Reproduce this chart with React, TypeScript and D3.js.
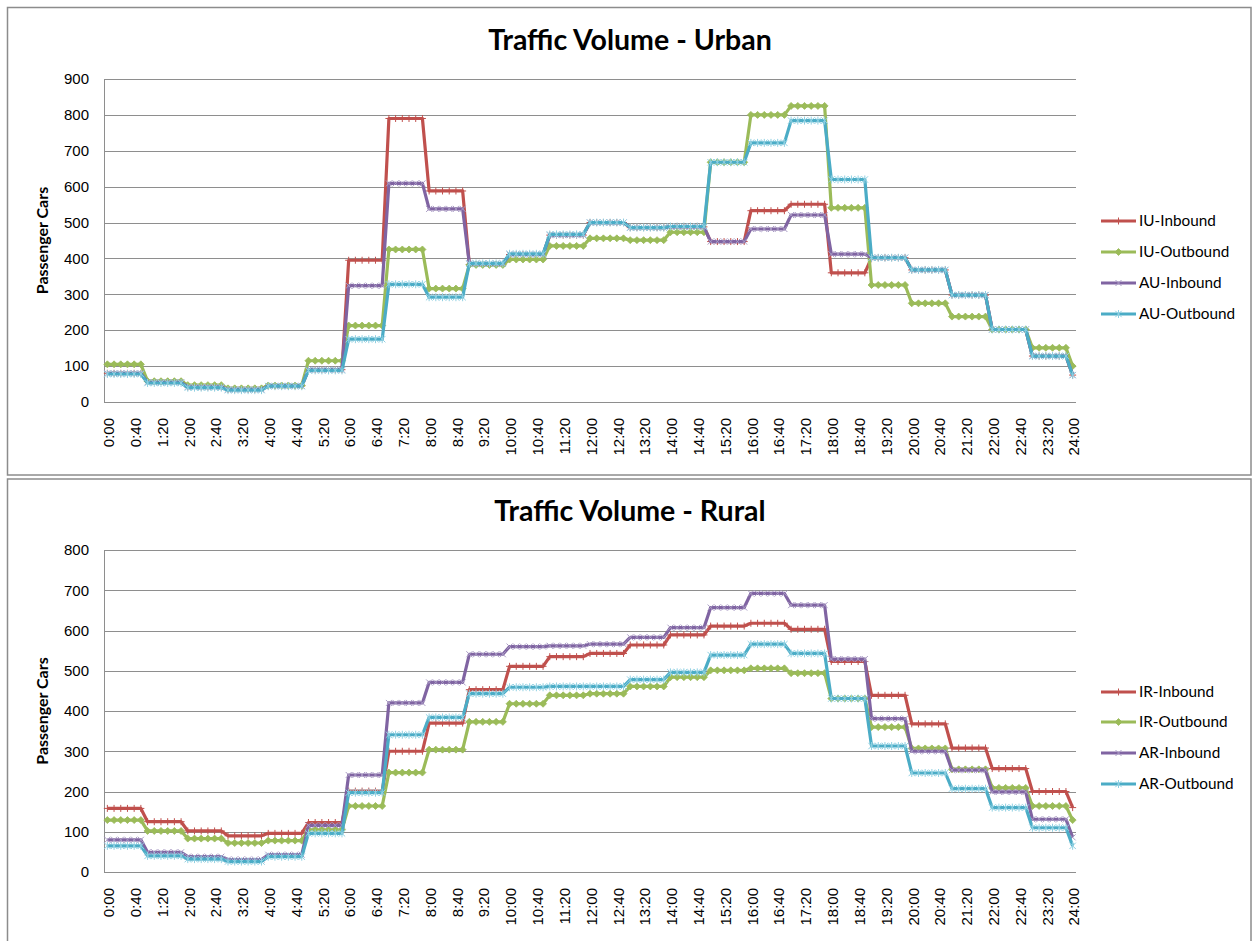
import React from "react";
import * as d3 from "d3";

// ---------- DATA (10-minute samples, 0:00 .. 24:00) ----------
const timeLabels: string[] = d3.range(145).map(
  (i) => `${Math.floor(i / 6)}:${String((i % 6) * 10).padStart(2, "0")}`
);

const urbanNames = ["IU-Inbound", "IU-Outbound", "AU-Inbound", "AU-Outbound"];
const ruralNames = ["IR-Inbound", "IR-Outbound", "AR-Inbound", "AR-Outbound"];

const urbanTicks = [0, 100, 200, 300, 400, 500, 600, 700, 800, 900];
const ruralTicks = [0, 100, 200, 300, 400, 500, 600, 700, 800];

const iuInbound = [
  80,80,80,80,80,80, 57,57,57,57,57,57, 42,42,42,42,42,42, 35,35,35,35,35,35,
  45,45,45,45,45,45, 90,90,90,90,90,90, 395,395,395,395,395,395, 790,790,790,790,790,790,
  588,588,588,588,588,588, 383,383,383,383,383,383, 411,411,411,411,411,411, 465,465,465,465,465,465,
  500,500,500,500,500,500, 486,486,486,486,486,486, 488,488,488,488,488,488, 447,447,447,447,447,447,
  533,533,533,533,533,533, 551,551,551,551,551,551, 360,360,360,360,360,360, 402,402,402,402,402,402,
  368,368,368,368,368,368, 298,298,298,298,298,298, 202,202,202,202,202,202, 128,128,128,128,128,128,
  75,
];
const iuOutbound = [
  105,105,105,105,105,105, 58,58,58,58,58,58, 47,47,47,47,47,47, 38,38,38,38,38,38,
  46,46,46,46,46,46, 115,115,115,115,115,115, 213,213,213,213,213,213, 425,425,425,425,425,425,
  316,316,316,316,316,316, 382,382,382,382,382,382, 397,397,397,397,397,397, 435,435,435,435,435,435,
  456,456,456,456,456,456, 451,451,451,451,451,451, 473,473,473,473,473,473, 668,668,668,668,668,668,
  800,800,800,800,800,800, 825,825,825,825,825,825, 541,541,541,541,541,541, 326,326,326,326,326,326,
  275,275,275,275,275,275, 238,238,238,238,238,238, 202,202,202,202,202,202, 151,151,151,151,151,151,
  100,
];
const auInbound = [
  80,80,80,80,80,80, 55,55,55,55,55,55, 42,42,42,42,42,42, 35,35,35,35,35,35,
  45,45,45,45,45,45, 90,90,90,90,90,90, 324,324,324,324,324,324, 609,609,609,609,609,609,
  538,538,538,538,538,538, 385,385,385,385,385,385, 411,411,411,411,411,411, 465,465,465,465,465,465,
  500,500,500,500,500,500, 486,486,486,486,486,486, 488,488,488,488,488,488, 447,447,447,447,447,447,
  482,482,482,482,482,482, 521,521,521,521,521,521, 412,412,412,412,412,412, 402,402,402,402,402,402,
  368,368,368,368,368,368, 298,298,298,298,298,298, 202,202,202,202,202,202, 128,128,128,128,128,128,
  75,
];
const auOutbound = [
  78,78,78,78,78,78, 53,53,53,53,53,53, 40,40,40,40,40,40, 33,33,33,33,33,33,
  44,44,44,44,44,44, 88,88,88,88,88,88, 175,175,175,175,175,175, 328,328,328,328,328,328,
  292,292,292,292,292,292, 386,386,386,386,386,386, 413,413,413,413,413,413, 467,467,467,467,467,467,
  500,500,500,500,500,500, 486,486,486,486,486,486, 489,489,489,489,489,489, 668,668,668,668,668,668,
  722,722,722,722,722,722, 784,784,784,784,784,784, 620,620,620,620,620,620, 402,402,402,402,402,402,
  368,368,368,368,368,368, 298,298,298,298,298,298, 202,202,202,202,202,202, 128,128,128,128,128,128,
  75,
];

const irInbound = [
  158,158,158,158,158,158, 125,125,125,125,125,125, 102,102,102,102,102,102, 90,90,90,90,90,90,
  96,96,96,96,96,96, 123,123,123,123,123,123, 201,201,201,201,201,201, 300,300,300,300,300,300,
  370,370,370,370,370,370, 453,453,453,453,453,453, 511,511,511,511,511,511, 535,535,535,535,535,535,
  543,543,543,543,543,543, 564,564,564,564,564,564, 589,589,589,589,589,589, 611,611,611,611,611,611,
  618,618,618,618,618,618, 603,603,603,603,603,603, 523,523,523,523,523,523, 439,439,439,439,439,439,
  368,368,368,368,368,368, 308,308,308,308,308,308, 257,257,257,257,257,257, 200,200,200,200,200,200,
  160,
];
const irOutbound = [
  129,129,129,129,129,129, 102,102,102,102,102,102, 83,83,83,83,83,83, 72,72,72,72,72,72,
  78,78,78,78,78,78, 105,105,105,105,105,105, 164,164,164,164,164,164, 247,247,247,247,247,247,
  304,304,304,304,304,304, 373,373,373,373,373,373, 418,418,418,418,418,418, 439,439,439,439,439,439,
  443,443,443,443,443,443, 461,461,461,461,461,461, 484,484,484,484,484,484, 501,501,501,501,501,501,
  506,506,506,506,506,506, 494,494,494,494,494,494, 431,431,431,431,431,431, 360,360,360,360,360,360,
  307,307,307,307,307,307, 255,255,255,255,255,255, 209,209,209,209,209,209, 164,164,164,164,164,164,
  129,
];
const arInbound = [
  80,80,80,80,80,80, 49,49,49,49,49,49, 38,38,38,38,38,38, 31,31,31,31,31,31,
  43,43,43,43,43,43, 116,116,116,116,116,116, 241,241,241,241,241,241, 420,420,420,420,420,420,
  471,471,471,471,471,471, 541,541,541,541,541,541, 560,560,560,560,560,560, 562,562,562,562,562,562,
  566,566,566,566,566,566, 583,583,583,583,583,583, 607,607,607,607,607,607, 657,657,657,657,657,657,
  692,692,692,692,692,692, 663,663,663,663,663,663, 529,529,529,529,529,529, 381,381,381,381,381,381,
  300,300,300,300,300,300, 253,253,253,253,253,253, 199,199,199,199,199,199, 131,131,131,131,131,131,
  86,
];
const arOutbound = [
  65,65,65,65,65,65, 40,40,40,40,40,40, 32,32,32,32,32,32, 26,26,26,26,26,26,
  38,38,38,38,38,38, 96,96,96,96,96,96, 197,197,197,197,197,197, 341,341,341,341,341,341,
  384,384,384,384,384,384, 443,443,443,443,443,443, 459,459,459,459,459,459, 461,461,461,461,461,461,
  461,461,461,461,461,461, 478,478,478,478,478,478, 496,496,496,496,496,496, 539,539,539,539,539,539,
  566,566,566,566,566,566, 543,543,543,543,543,543, 431,431,431,431,431,431, 313,313,313,313,313,313,
  246,246,246,246,246,246, 207,207,207,207,207,207, 160,160,160,160,160,160, 110,110,110,110,110,110,
  65,
];

const seriesColors = ["#C0504D", "#9BBB59", "#8064A2", "#4BACC6"];
const markerKinds = ["plus", "diamond", "x", "star"];

// ---------- DRAWING ----------
type ChartProps = {
  title: string;
  names: string[];
  values: number[][];
  ticks: number[];
  panelTop: number;
  panelBottom: number;
  plotTop: number;
  plotBottom: number;
  titleY: number;
  legendY: number[];
};

const PLOT_LEFT = 104;
const PLOT_RIGHT = 1076;
const TICK_FONT = "'Liberation Sans', Arial, sans-serif";
const TEXT_FONT = "Lato, 'Liberation Sans', sans-serif";

function Marker({ kind, color, x, y }: { kind: string; color: string; x: number; y: number }) {
  const s = 3.5;
  if (kind === "diamond") {
    return <path d={`M${x},${y - s}L${x + s},${y}L${x},${y + s}L${x - s},${y}Z`} fill={color} stroke={color} strokeWidth={0.8} />;
  }
  if (kind === "plus") {
    return <path d={`M${x - s},${y}H${x + s}M${x},${y - s}V${y + s}`} stroke={color} strokeWidth={1} fill="none" />;
  }
  if (kind === "x") {
    const t = 3;
    return <path d={`M${x - t},${y - t}L${x + t},${y + t}M${x - t},${y + t}L${x + t},${y - t}`} stroke="#A99BC4" strokeWidth={1} fill="none" />;
  }
  const t = 3.2;
  return (
    <path
      d={`M${x - t},${y - t}L${x + t},${y + t}M${x - t},${y + t}L${x + t},${y - t}M${x},${y - 4}V${y + 4}`}
      stroke="#8FD0E2"
      strokeWidth={1}
      fill="none"
    />
  );
}

function Chart(p: ChartProps) {
  const x = d3.scalePoint<string>().domain(timeLabels).range([PLOT_LEFT, PLOT_RIGHT]).padding(0.5);
  const yMax = p.ticks[p.ticks.length - 1];
  const y = d3.scaleLinear().domain([0, yMax]).range([p.plotBottom, p.plotTop]);
  const line = d3
    .line<number>()
    .x((_, i) => x(timeLabels[i]) as number)
    .y((d) => y(d));
  const labelTicks = timeLabels.filter((_, i) => i % 4 === 0);

  return (
    <g>
      <rect
        x={7.5}
        y={p.panelTop}
        width={1243.5}
        height={p.panelBottom - p.panelTop}
        fill="#fff"
        stroke="#8C8C8C"
        strokeWidth={1.5}
      />
      <text x={630} y={p.titleY} textAnchor="middle" fontFamily={TEXT_FONT} fontWeight="bold" fontSize={28.5} fill="#000">
        {p.title}
      </text>
      {/* gridlines */}
      {p.ticks.map((t) => (
        <line key={t} x1={PLOT_LEFT} x2={PLOT_RIGHT} y1={Math.round(y(t)) + 0.5} y2={Math.round(y(t)) + 0.5} stroke="#8E8E8E" strokeWidth={1} />
      ))}
      <line x1={PLOT_LEFT + 0.5} x2={PLOT_LEFT + 0.5} y1={p.plotTop} y2={p.plotBottom} stroke="#8E8E8E" strokeWidth={1} />
      {/* y tick labels */}
      {p.ticks.map((t) => (
        <text key={t} x={89} y={y(t)} dy="0.35em" textAnchor="end" fontFamily={TICK_FONT} fontSize={15} fill="#000">
          {t}
        </text>
      ))}
      {/* x tick labels */}
      {labelTicks.map((lab) => {
        const px = (x(lab) as number) + 1.5;
        const py = p.plotBottom + 16;
        return (
          <text
            key={lab}
            transform={`translate(${px},${py}) rotate(-90)`}
            dy="0.35em"
            textAnchor="end"
            fontFamily={TICK_FONT}
            fontSize={15}
            fill="#000"
          >
            {lab}
          </text>
        );
      })}
      {/* y axis title */}
      <text
        transform={`translate(42,${(p.plotTop + p.plotBottom) / 2}) rotate(-90)`}
        dy="0.35em"
        textAnchor="middle"
        fontFamily={TEXT_FONT}
        fontWeight="bold"
        fontSize={16}
        fill="#000"
      >
        Passenger Cars
      </text>
      {/* series */}
      {p.values.map((vals, si) => (
        <g key={si}>
          <path d={line(vals) || ""} fill="none" stroke={seriesColors[si]} strokeWidth={3.2} strokeLinejoin="round" />
          {vals.map((v, i) => (
            <Marker key={i} kind={markerKinds[si]} color={seriesColors[si]} x={x(timeLabels[i]) as number} y={y(v)} />
          ))}
        </g>
      ))}
      {/* legend */}
      {p.names.map((n, si) => (
        <g key={n}>
          <line x1={1101} x2={1136} y1={p.legendY[si]} y2={p.legendY[si]} stroke={seriesColors[si]} strokeWidth={3.2} />
          <Marker kind={markerKinds[si]} color={seriesColors[si]} x={1118.5} y={p.legendY[si]} />
          <text x={1139} y={p.legendY[si]} dy="0.35em" fontFamily={TEXT_FONT} fontSize={15.3} fill="#000">
            {n}
          </text>
        </g>
      ))}
    </g>
  );
}

export default function App() {
  return (
    <svg
      width={1252}
      height={941}
      style={{ position: "absolute", left: 0, top: 0, background: "#fff" }}
    >
      <rect x={0} y={0} width={1252} height={941} fill="#fff" />
      <Chart
        title="Traffic Volume - Urban"
        names={urbanNames}
        values={[iuInbound, iuOutbound, auInbound, auOutbound]}
        ticks={urbanTicks}
        panelTop={7.5}
        panelBottom={475}
        plotTop={79}
        plotBottom={402}
        titleY={50}
        legendY={[221, 252, 283, 314]}
      />
      <Chart
        title="Traffic Volume - Rural"
        names={ruralNames}
        values={[irInbound, irOutbound, arInbound, arOutbound]}
        ticks={ruralTicks}
        panelTop={479}
        panelBottom={960}
        plotTop={550}
        plotBottom={872}
        titleY={521}
        legendY={[692, 722, 753, 784]}
      />
    </svg>
  );
}
